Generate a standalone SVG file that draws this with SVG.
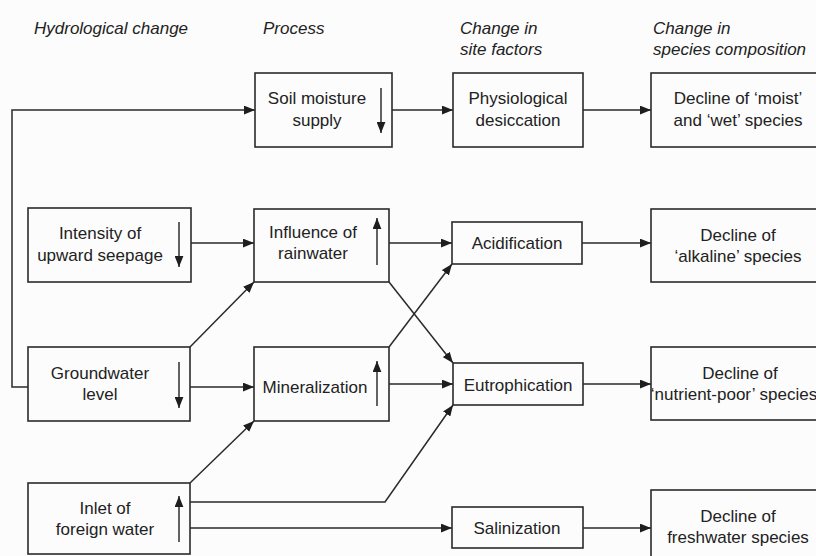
<svg xmlns="http://www.w3.org/2000/svg" width="816" height="556" viewBox="0 0 816 556">
<defs>
<marker id="ah" viewBox="0 0 10 8" refX="10" refY="4" markerWidth="11" markerHeight="9" markerUnits="userSpaceOnUse" orient="auto">
<path d="M0,0 L10,4 L0,8 Z" fill="#1e1e1e"/>
</marker>
<marker id="ih" viewBox="0 0 10 8" refX="10" refY="4" markerWidth="11" markerHeight="9" markerUnits="userSpaceOnUse" orient="auto">
<path d="M0,0 L10,4 L0,8 Z" fill="#1e1e1e"/>
</marker>
<style>
.box{fill:none;stroke:#2a2a2a;stroke-width:1.6}
.t{font-family:"Liberation Sans",Arial,sans-serif;font-size:17px;fill:#222;text-anchor:middle}
.h{font-family:"Liberation Sans",Arial,sans-serif;font-size:17px;font-style:italic;fill:#222}
.c{fill:none;stroke:#2a2a2a;stroke-width:1.5;marker-end:url(#ah)}
.l{fill:none;stroke:#2a2a2a;stroke-width:1.5}
.ind{fill:none;stroke:#222;stroke-width:1.4;marker-end:url(#ih)}
</style>
</defs>
<rect width="816" height="556" fill="#fcfcfc"/>
<g id="headers">
<text class="h" x="34" y="34">Hydrological change</text>
<text class="h" x="263" y="34">Process</text>
<text class="h" x="460" y="34">Change in</text>
<text class="h" x="460" y="55">site factors</text>
<text class="h" x="653" y="34">Change in</text>
<text class="h" x="653" y="55">species composition</text>
</g>
<g id="connectors">
<polyline class="c" points="28,387 12,387 12,110 255,110"/>
<line class="c" x1="392" y1="110" x2="453" y2="110"/>
<line class="c" x1="583" y1="110" x2="651" y2="110"/>
<line class="c" x1="191" y1="243" x2="254" y2="243"/>
<line class="c" x1="389" y1="243" x2="452" y2="243"/>
<line class="c" x1="582" y1="243" x2="651" y2="243"/>
<line class="c" x1="190" y1="347" x2="254" y2="282"/>
<line class="c" x1="190" y1="387" x2="254" y2="387"/>
<line class="c" x1="389" y1="347" x2="452" y2="264"/>
<line class="c" x1="389" y1="282" x2="453" y2="363"/>
<line class="c" x1="389" y1="384" x2="453" y2="384"/>
<line class="c" x1="583" y1="384" x2="651" y2="384"/>
<line class="c" x1="190" y1="483" x2="254" y2="421"/>
<polyline class="c" points="190,502 385,502 453,405"/>
<line class="c" x1="190" y1="528" x2="452" y2="528"/>
<line class="c" x1="583" y1="528" x2="651" y2="528"/>
</g>
<g id="soil-moisture">
<rect class="box" x="255" y="73" width="137" height="74"/>
<text class="t" x="317" y="104">Soil moisture</text>
<text class="t" x="317" y="126">supply</text>
<line class="ind" x1="381" y1="88" x2="381" y2="133"/>
</g>
<g id="physiological">
<rect class="box" x="453" y="73" width="130" height="74"/>
<text class="t" x="518" y="104">Physiological</text>
<text class="t" x="518" y="126">desiccation</text>
</g>
<g id="decline-moist">
<rect class="box" x="651" y="73" width="200" height="74"/>
<text class="t" x="738" y="104">Decline of ‘moist’</text>
<text class="t" x="738" y="126">and ‘wet’ species</text>
</g>
<g id="intensity">
<rect class="box" x="28" y="208" width="163" height="74"/>
<text class="t" x="100" y="239">Intensity of</text>
<text class="t" x="100" y="261">upward seepage</text>
<line class="ind" x1="179" y1="222" x2="179" y2="267"/>
</g>
<g id="influence">
<rect class="box" x="254" y="209" width="135" height="73"/>
<text class="t" x="313" y="238">Influence of</text>
<text class="t" x="313" y="259">rainwater</text>
<line class="ind" x1="377" y1="265" x2="377" y2="218"/>
</g>
<g id="acidification">
<rect class="box" x="452" y="222" width="130" height="42"/>
<text class="t" x="517" y="249">Acidification</text>
</g>
<g id="decline-alkaline">
<rect class="box" x="651" y="209" width="200" height="73"/>
<text class="t" x="738" y="241">Decline of</text>
<text class="t" x="738" y="262">‘alkaline’ species</text>
</g>
<g id="groundwater">
<rect class="box" x="28" y="347" width="162" height="74"/>
<text class="t" x="100" y="379">Groundwater</text>
<text class="t" x="100" y="400">level</text>
<line class="ind" x1="179" y1="362" x2="179" y2="408"/>
</g>
<g id="mineralization">
<rect class="box" x="254" y="347" width="135" height="74"/>
<text class="t" x="315" y="393">Mineralization</text>
<line class="ind" x1="377" y1="406" x2="377" y2="361"/>
</g>
<g id="eutrophication">
<rect class="box" x="453" y="363" width="130" height="42"/>
<text class="t" x="518" y="391">Eutrophication</text>
</g>
<g id="decline-nutrient">
<rect class="box" x="651" y="347" width="200" height="73"/>
<text class="t" x="740" y="379">Decline of</text>
<text class="t" x="734" y="400">‘nutrient-poor’ species</text>
</g>
<g id="inlet">
<rect class="box" x="28" y="483" width="162" height="71"/>
<text class="t" x="105" y="514">Inlet of</text>
<text class="t" x="105" y="535">foreign water</text>
<line class="ind" x1="179" y1="542" x2="179" y2="496"/>
</g>
<g id="salinization">
<rect class="box" x="452" y="507" width="131" height="41"/>
<text class="t" x="517" y="534">Salinization</text>
</g>
<g id="decline-freshwater">
<rect class="box" x="651" y="490" width="200" height="75"/>
<text class="t" x="738" y="522">Decline of</text>
<text class="t" x="738" y="543">freshwater species</text>
</g>
</svg>
